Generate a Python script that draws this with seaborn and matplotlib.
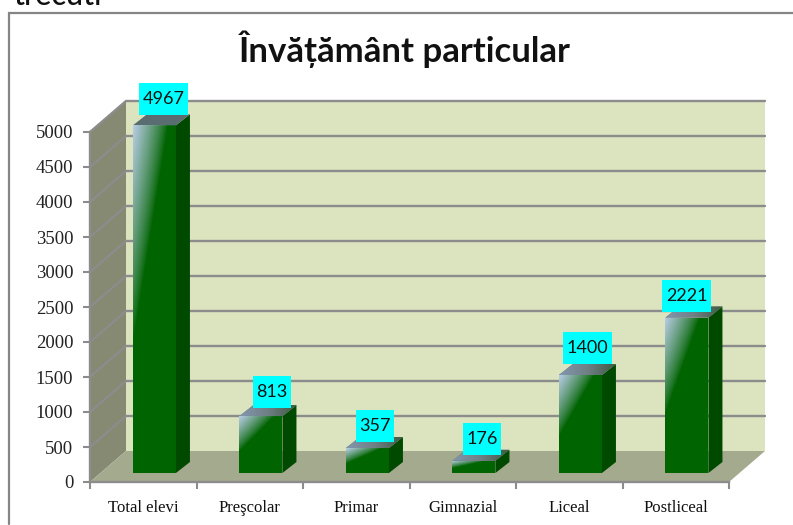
import numpy as np
import pandas as pd
import seaborn as sns
import matplotlib.pyplot as plt
from matplotlib.colors import LinearSegmentedColormap, to_rgb
from matplotlib.lines import Line2D
from matplotlib.patches import Polygon, Rectangle

# Data
categories = ['Total elevi', 'Preşcolar', 'Primar', 'Gimnazial', 'Liceal', 'Postliceal']
values = [4967, 813, 357, 176, 1400, 2221]
y_ticks = [0, 500, 1000, 1500, 2000, 2500, 3000, 3500, 4000, 4500, 5000]
df = pd.DataFrame({'category': categories, 'value': values})

sns.set_theme(style='white')
W, H = 793, 525
fig = plt.figure(figsize=(W / 100, H / 100), dpi=100)
ax = fig.add_axes([90 / W, (H - 482) / H, 639 / W, 350 / H])

# pixels to data units
px = 6 / 639
py = 5000 / 350
DX, DY = 36 * px, 31 * py      # depth of the walls
bx, by = 14 * px, 11 * py      # depth of the bars
GRID = '#8c8c8c'

sns.barplot(data=df, x='category', y='value', color='#006400', width=0.404, ax=ax,
            saturation=1, zorder=5, linewidth=0)
bars = list(ax.patches)
ax.set_xlabel('')
ax.set_ylabel('')

# walls and floor
x0, x1 = -0.5, 5.5
ax.add_patch(Polygon([(x0, 0), (x0 + DX, DY), (x0 + DX, 5000 + DY), (x0, 5000)],
                     fc='#868a72', ec='none', clip_on=False, zorder=0.5))
ax.add_patch(Rectangle((x0 + DX, DY), 6, 5000, fc='#dbe4bf', ec='none', clip_on=False, zorder=0.5))
ax.add_patch(Polygon([(x0, 0), (x1, 0), (x1 + DX, DY), (x0 + DX, DY)],
                     fc='#a4aa8e', ec='none', clip_on=False, zorder=1))
for t in y_ticks[1:]:
    ax.plot([x0, x0 + DX, x1 + DX], [t, t + DY, t + DY], color=GRID, lw=1.7,
            clip_on=False, zorder=1.5, solid_joinstyle='miter')

# bars: gloss, side and top faces
gloss_cmap = LinearSegmentedColormap.from_list('gloss', [(*to_rgb('#b8cce4'), 0), (*to_rgb('#b8cce4'), 1)])
top_cmap = LinearSegmentedColormap.from_list('top', ['#8397ad', '#6f7f85', '#3e5a40'])
base = 9 * py
for bar in bars:
    left = bar.get_x() + 0.105
    bar.set_x(left)
    bar.set_y(base)
    bar.set_clip_on(False)
    w, h = bar.get_width(), bar.get_height()
    top = base + h
    # gloss on the front face
    hpx = max(int(h / py), 2)
    u, v = np.meshgrid(np.linspace(0, 1, 43), np.linspace(0, 1, hpx))
    a = np.clip(1 - u / 0.8 - v / 0.62, 0, 1) ** 0.8
    ax.imshow(a, cmap=gloss_cmap, vmin=0, vmax=1, extent=[left, left + w, base, top], aspect='auto',
              zorder=6, interpolation='bilinear').set_clip_path(bar)
    # right side
    ax.add_patch(Polygon([(left + w, base), (left + w + bx, base + by), (left + w + bx, top + by), (left + w, top)],
                         fc='#004a00', ec='none', clip_on=False, zorder=5))
    # top face
    top_face = Polygon([(left, top), (left + w, top), (left + w + bx, top + by), (left + bx, top + by)],
                       fc='#5a6d70', ec='none', clip_on=False, zorder=5)
    ax.add_patch(top_face)
    img = ax.imshow(np.linspace(0, 1, 50).reshape(1, -1), cmap=top_cmap, aspect='auto',
                    extent=[left, left + w + bx, top, top + by], zorder=5.5, interpolation='bilinear')
    img.set_clip_path(top_face)
ax.set_xlim(-0.5, 5.5)
ax.set_ylim(0, 5000)

# value labels on cyan boxes
label_dx = [9, 11, 7.5, 8, 7, 0]
label_gap = [10, 8, 6.5, 6, 11, 6]
for i, (val, bar) in enumerate(zip(values, bars)):
    cx = bar.get_x() + bar.get_width() / 2 + label_dx[i] * px
    bw = (49 if val >= 1000 else 38) * px
    y_b = base + val + label_gap[i] * py
    ax.add_patch(Rectangle((cx - bw / 2, y_b), bw, 32 * py, fc='#00ffff', ec='none', clip_on=False, zorder=8))
    ax.text(cx, y_b + 16 * py, str(val), ha='center', va='center', color='#111111',
            family='Lato', fontsize=13, zorder=9)

# axes and ticks
for side in ['top', 'right']:
    ax.spines[side].set_visible(False)
for side in ['left', 'bottom']:
    ax.spines[side].set_color(GRID)
    ax.spines[side].set_linewidth(1.7)
    ax.spines[side].set_zorder(3)
ax.set_yticks(y_ticks)
ax.tick_params(axis='y', length=5, width=1.5, color=GRID, left=True, pad=7)
ax.set_xticks(np.arange(-0.5, 6), minor=True)
ax.tick_params(axis='x', which='minor', length=5, width=1.5, color=GRID, bottom=True)
ax.tick_params(axis='x', which='major', length=0, pad=13)
for lab in ax.get_yticklabels():
    lab.set_family('Liberation Serif')
    lab.set_fontsize(13.5)
    lab.set_color('#222222')
for lab in ax.get_xticklabels():
    lab.set_family('Liberation Serif')
    lab.set_fontsize(12)
    lab.set_color('#111111')

# title, outer frame and the cut-off line of text above the chart
fig.text(405 / W, (H - 62) / H, 'Învățământ particular', ha='center', va='baseline',
         family='Lato', fontweight='bold', fontsize=25, color='#111111')
fig.text(13 / W, (H - 5) / H, 'trecuti', ha='left', va='baseline', family='Lato',
         fontweight='medium', fontsize=22, color='#111111')
fig.add_artist(Line2D([8.5 / W, 8.5 / W, 1], [(H - 524) / H, (H - 12.5) / H, (H - 12.5) / H],
                      color='#858585', lw=1.6, solid_joinstyle='miter'))

fig.savefig('out.png', dpi=100)
